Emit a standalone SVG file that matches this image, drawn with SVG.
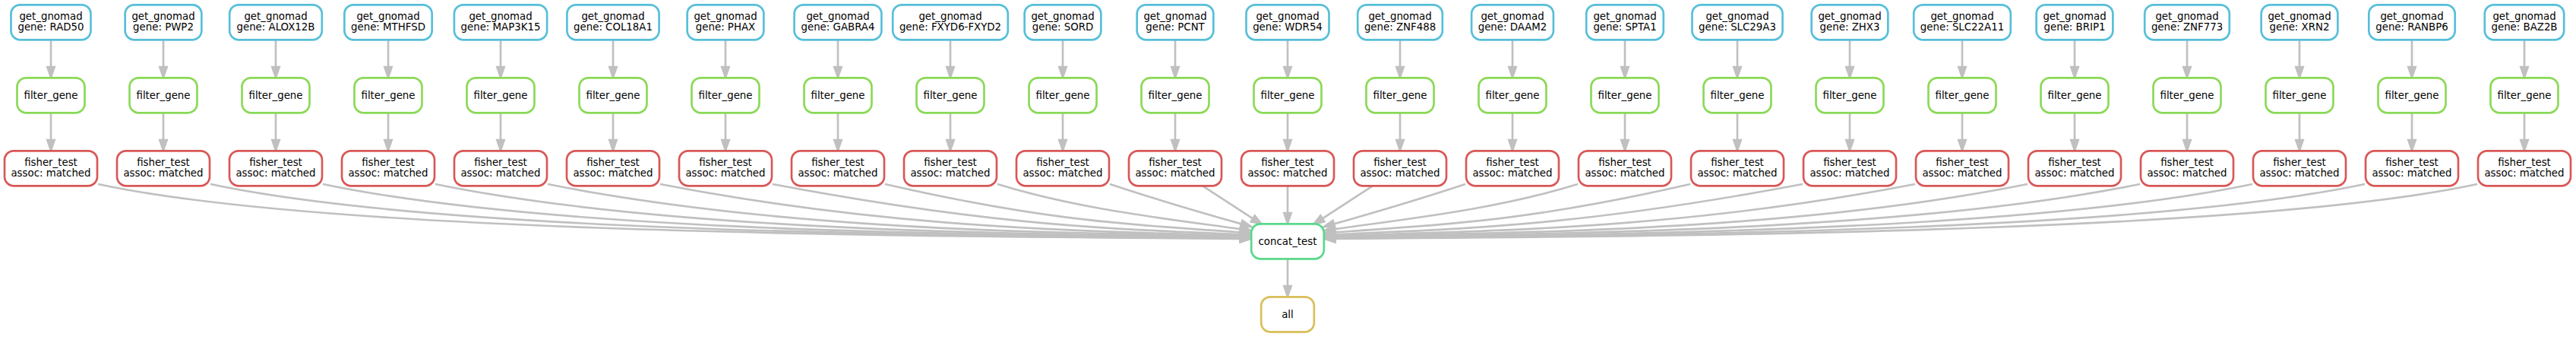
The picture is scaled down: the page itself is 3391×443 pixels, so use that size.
<svg xmlns="http://www.w3.org/2000/svg" width="3391" height="443" viewBox="0 0 3391 443">
<style>
.n rect{fill:#ffffff;stroke-width:2.67}
.g rect{stroke:#57bfd9}
.f rect{stroke:#8bd957}
.x rect{stroke:#d95757}
.c rect{stroke:#57d98b}
.l rect{stroke:#d9bf57}
text{font-family:"DejaVu Sans","Liberation Sans",sans-serif;font-size:13.33px;text-anchor:middle;fill:#000000}
#edges path{fill:none;stroke:#c0c0c0;stroke-width:2.67}
#edges polygon{fill:#c0c0c0;stroke:#c0c0c0;stroke-width:2.67}
</style>
<rect x="0" y="0" width="3391" height="443" fill="#ffffff"/>
<g id="edges">
<path d="M67 52.3V88.2"/><polygon points="67,101.5 62.33,88.2 71.67,88.2"/>
<path d="M67 148.3V184.2"/><polygon points="67,197.5 62.33,184.2 71.67,184.2"/>
<path d="M215 52.3V88.2"/><polygon points="215,101.5 210.33,88.2 219.67,88.2"/>
<path d="M215 148.3V184.2"/><polygon points="215,197.5 210.33,184.2 219.67,184.2"/>
<path d="M363 52.3V88.2"/><polygon points="363,101.5 358.33,88.2 367.67,88.2"/>
<path d="M363 148.3V184.2"/><polygon points="363,197.5 358.33,184.2 367.67,184.2"/>
<path d="M511 52.3V88.2"/><polygon points="511,101.5 506.33,88.2 515.67,88.2"/>
<path d="M511 148.3V184.2"/><polygon points="511,197.5 506.33,184.2 515.67,184.2"/>
<path d="M659 52.3V88.2"/><polygon points="659,101.5 654.33,88.2 663.67,88.2"/>
<path d="M659 148.3V184.2"/><polygon points="659,197.5 654.33,184.2 663.67,184.2"/>
<path d="M807 52.3V88.2"/><polygon points="807,101.5 802.33,88.2 811.67,88.2"/>
<path d="M807 148.3V184.2"/><polygon points="807,197.5 802.33,184.2 811.67,184.2"/>
<path d="M955 52.3V88.2"/><polygon points="955,101.5 950.33,88.2 959.67,88.2"/>
<path d="M955 148.3V184.2"/><polygon points="955,197.5 950.33,184.2 959.67,184.2"/>
<path d="M1103 52.3V88.2"/><polygon points="1103,101.5 1098.33,88.2 1107.67,88.2"/>
<path d="M1103 148.3V184.2"/><polygon points="1103,197.5 1098.33,184.2 1107.67,184.2"/>
<path d="M1251 52.3V88.2"/><polygon points="1251,101.5 1246.33,88.2 1255.67,88.2"/>
<path d="M1251 148.3V184.2"/><polygon points="1251,197.5 1246.33,184.2 1255.67,184.2"/>
<path d="M1399 52.3V88.2"/><polygon points="1399,101.5 1394.33,88.2 1403.67,88.2"/>
<path d="M1399 148.3V184.2"/><polygon points="1399,197.5 1394.33,184.2 1403.67,184.2"/>
<path d="M1547 52.3V88.2"/><polygon points="1547,101.5 1542.33,88.2 1551.67,88.2"/>
<path d="M1547 148.3V184.2"/><polygon points="1547,197.5 1542.33,184.2 1551.67,184.2"/>
<path d="M1695 52.3V88.2"/><polygon points="1695,101.5 1690.33,88.2 1699.67,88.2"/>
<path d="M1695 148.3V184.2"/><polygon points="1695,197.5 1690.33,184.2 1699.67,184.2"/>
<path d="M1843 52.3V88.2"/><polygon points="1843,101.5 1838.33,88.2 1847.67,88.2"/>
<path d="M1843 148.3V184.2"/><polygon points="1843,197.5 1838.33,184.2 1847.67,184.2"/>
<path d="M1991 52.3V88.2"/><polygon points="1991,101.5 1986.33,88.2 1995.67,88.2"/>
<path d="M1991 148.3V184.2"/><polygon points="1991,197.5 1986.33,184.2 1995.67,184.2"/>
<path d="M2139 52.3V88.2"/><polygon points="2139,101.5 2134.33,88.2 2143.67,88.2"/>
<path d="M2139 148.3V184.2"/><polygon points="2139,197.5 2134.33,184.2 2143.67,184.2"/>
<path d="M2287 52.3V88.2"/><polygon points="2287,101.5 2282.33,88.2 2291.67,88.2"/>
<path d="M2287 148.3V184.2"/><polygon points="2287,197.5 2282.33,184.2 2291.67,184.2"/>
<path d="M2435 52.3V88.2"/><polygon points="2435,101.5 2430.33,88.2 2439.67,88.2"/>
<path d="M2435 148.3V184.2"/><polygon points="2435,197.5 2430.33,184.2 2439.67,184.2"/>
<path d="M2583 52.3V88.2"/><polygon points="2583,101.5 2578.33,88.2 2587.67,88.2"/>
<path d="M2583 148.3V184.2"/><polygon points="2583,197.5 2578.33,184.2 2587.67,184.2"/>
<path d="M2731 52.3V88.2"/><polygon points="2731,101.5 2726.33,88.2 2735.67,88.2"/>
<path d="M2731 148.3V184.2"/><polygon points="2731,197.5 2726.33,184.2 2735.67,184.2"/>
<path d="M2879 52.3V88.2"/><polygon points="2879,101.5 2874.33,88.2 2883.67,88.2"/>
<path d="M2879 148.3V184.2"/><polygon points="2879,197.5 2874.33,184.2 2883.67,184.2"/>
<path d="M3027 52.3V88.2"/><polygon points="3027,101.5 3022.33,88.2 3031.67,88.2"/>
<path d="M3027 148.3V184.2"/><polygon points="3027,197.5 3022.33,184.2 3031.67,184.2"/>
<path d="M3175 52.3V88.2"/><polygon points="3175,101.5 3170.33,88.2 3179.67,88.2"/>
<path d="M3175 148.3V184.2"/><polygon points="3175,197.5 3170.33,184.2 3179.67,184.2"/>
<path d="M3323 52.3V88.2"/><polygon points="3323,101.5 3318.33,88.2 3327.67,88.2"/>
<path d="M3323 148.3V184.2"/><polygon points="3323,197.5 3318.33,184.2 3327.67,184.2"/>

<path d="M129 242C444 309.6 1256.8 310.1 1632.7 313.87"/><polygon points="1646,314 1632.7,318.5 1632.7,309.2"/>
<path d="M277 242C592 308.8 1293.8 309.27 1632.7 313.34"/><polygon points="1646,313.5 1632.6,318 1632.8,308.7"/>
<path d="M425 242C740 307.8 1330.8 308.27 1632.7 312.8"/><polygon points="1646,313 1632.6,317.5 1632.8,308.1"/>
<path d="M573 242C888 306.4 1367.8 306.93 1632.7 312.23"/><polygon points="1646,312.5 1632.6,316.9 1632.8,307.6"/>
<path d="M721 242C1036 305 1404.8 305.47 1632.7 311.17"/><polygon points="1646,311.5 1632.6,315.8 1632.8,306.5"/>
<path d="M869 242C1184 302.9 1441.8 303.35 1632.7 310.03"/><polygon points="1646,310.5 1632.5,314.7 1632.9,305.4"/>
<path d="M1017 242C1324.9 300.1 1478.8 300.6 1632.7 308.33"/><polygon points="1646,309 1632.5,313 1632.9,303.7"/>
<path d="M1165 242C1398.9 295.6 1515.8 296.1 1632.7 305.44"/><polygon points="1646,306.5 1632.3,310.1 1633.1,300.8"/>
<path d="M1313 242C1418.5 274.5 1527.3 286.4 1632.8 301.15"/><polygon points="1646,303 1632.2,305.8 1633.4,296.5"/>
<path d="M1461 242C1518.2 260.9 1577 278.4 1634.2 294.4"/><polygon points="1647,298 1632.9,298.9 1635.5,289.9"/>
<path d="M1583 244.3L1649.25 287.35"/><polygon points="1660.5,294.5 1646.75,291.29 1651.75,283.41"/>
<path d="M1695 244.3V280.2"/><polygon points="1695,293.5 1690.33,280.2 1699.67,280.2"/>
<path d="M1807 244.3L1740.75 287.35"/><polygon points="1729.5,294.5 1743.25,291.29 1738.25,283.41"/>
<path d="M1929 242C1871.8 260.9 1813 278.4 1755.8 294.4"/><polygon points="1743,298 1757.1,298.9 1754.5,289.9"/>
<path d="M2077 242C1971.5 274.5 1862.7 286.4 1757.2 301.15"/><polygon points="1744,303 1757.8,305.8 1756.6,296.5"/>
<path d="M2225 242C1991.1 295.6 1874.2 296.1 1757.3 305.44"/><polygon points="1744,306.5 1757.7,310.1 1756.9,300.8"/>
<path d="M2373 242C2065.1 300.1 1911.2 300.6 1757.3 308.33"/><polygon points="1744,309 1757.5,313 1757.1,303.7"/>
<path d="M2521 242C2206 302.9 1948.2 303.35 1757.3 310.03"/><polygon points="1744,310.5 1757.5,314.7 1757.1,305.4"/>
<path d="M2669 242C2354 305 1985.2 305.47 1757.3 311.17"/><polygon points="1744,311.5 1757.4,315.8 1757.2,306.5"/>
<path d="M2817 242C2502 306.4 2022.2 306.93 1757.3 312.23"/><polygon points="1744,312.5 1757.4,316.9 1757.2,307.6"/>
<path d="M2965 242C2650 307.8 2059.2 308.27 1757.3 312.8"/><polygon points="1744,313 1757.4,317.5 1757.2,308.1"/>
<path d="M3113 242C2798 308.8 2096.2 309.27 1757.3 313.34"/><polygon points="1744,313.5 1757.4,318 1757.2,308.7"/>
<path d="M3261 242C2946 309.6 2133.2 310.1 1757.3 313.87"/><polygon points="1744,314 1757.3,318.5 1757.3,309.2"/>
<path d="M1695 340.3V376.2"/><polygon points="1695,389.5 1690.33,376.2 1699.67,376.2"/>
</g>

<g id="get_gnomad_RAD50" class="n g"><rect x="14.5" y="6.3" width="105" height="46" rx="12"/><text x="67" y="25.8">get_gnomad</text><text x="67" y="40.3">gene: RAD50</text></g>
<g id="get_gnomad_PWP2" class="n g"><rect x="164.65" y="6.3" width="100.7" height="46" rx="12"/><text x="215" y="25.8">get_gnomad</text><text x="215" y="40.3">gene: PWP2</text></g>
<g id="get_gnomad_ALOX12B" class="n g"><rect x="302.2" y="6.3" width="121.6" height="46" rx="12"/><text x="363" y="25.8">get_gnomad</text><text x="363" y="40.3">gene: ALOX12B</text></g>
<g id="get_gnomad_MTHFSD" class="n g"><rect x="453.35" y="6.3" width="115.3" height="46" rx="12"/><text x="511" y="25.8">get_gnomad</text><text x="511" y="40.3">gene: MTHFSD</text></g>
<g id="get_gnomad_MAP3K15" class="n g"><rect x="597.9" y="6.3" width="122.2" height="46" rx="12"/><text x="659" y="25.8">get_gnomad</text><text x="659" y="40.3">gene: MAP3K15</text></g>
<g id="get_gnomad_COL18A1" class="n g"><rect x="746.4" y="6.3" width="121.2" height="46" rx="12"/><text x="807" y="25.8">get_gnomad</text><text x="807" y="40.3">gene: COL18A1</text></g>
<g id="get_gnomad_PHAX" class="n g"><rect x="904.65" y="6.3" width="100.7" height="46" rx="12"/><text x="955" y="25.8">get_gnomad</text><text x="955" y="40.3">gene: PHAX</text></g>
<g id="get_gnomad_GABRA4" class="n g"><rect x="1045.6" y="6.3" width="114.8" height="46" rx="12"/><text x="1103" y="25.8">get_gnomad</text><text x="1103" y="40.3">gene: GABRA4</text></g>
<g id="get_gnomad_FXYD6-FXYD2" class="n g"><rect x="1175.2" y="6.3" width="151.6" height="46" rx="12"/><text x="1251" y="25.8">get_gnomad</text><text x="1251" y="40.3">gene: FXYD6-FXYD2</text></g>
<g id="get_gnomad_SORD" class="n g"><rect x="1348.65" y="6.3" width="100.7" height="46" rx="12"/><text x="1399" y="25.8">get_gnomad</text><text x="1399" y="40.3">gene: SORD</text></g>
<g id="get_gnomad_PCNT" class="n g"><rect x="1496.65" y="6.3" width="100.7" height="46" rx="12"/><text x="1547" y="25.8">get_gnomad</text><text x="1547" y="40.3">gene: PCNT</text></g>
<g id="get_gnomad_WDR54" class="n g"><rect x="1640.5" y="6.3" width="109" height="46" rx="12"/><text x="1695" y="25.8">get_gnomad</text><text x="1695" y="40.3">gene: WDR54</text></g>
<g id="get_gnomad_ZNF488" class="n g"><rect x="1787.2" y="6.3" width="111.6" height="46" rx="12"/><text x="1843" y="25.8">get_gnomad</text><text x="1843" y="40.3">gene: ZNF488</text></g>
<g id="get_gnomad_DAAM2" class="n g"><rect x="1937.1" y="6.3" width="107.8" height="46" rx="12"/><text x="1991" y="25.8">get_gnomad</text><text x="1991" y="40.3">gene: DAAM2</text></g>
<g id="get_gnomad_SPTA1" class="n g"><rect x="2088.2" y="6.3" width="101.6" height="46" rx="12"/><text x="2139" y="25.8">get_gnomad</text><text x="2139" y="40.3">gene: SPTA1</text></g>
<g id="get_gnomad_SLC29A3" class="n g"><rect x="2227.45" y="6.3" width="119.1" height="46" rx="12"/><text x="2287" y="25.8">get_gnomad</text><text x="2287" y="40.3">gene: SLC29A3</text></g>
<g id="get_gnomad_ZHX3" class="n g"><rect x="2384.65" y="6.3" width="100.7" height="46" rx="12"/><text x="2435" y="25.8">get_gnomad</text><text x="2435" y="40.3">gene: ZHX3</text></g>
<g id="get_gnomad_SLC22A11" class="n g"><rect x="2519.2" y="6.3" width="127.6" height="46" rx="12"/><text x="2583" y="25.8">get_gnomad</text><text x="2583" y="40.3">gene: SLC22A11</text></g>
<g id="get_gnomad_BRIP1" class="n g"><rect x="2680.65" y="6.3" width="100.7" height="46" rx="12"/><text x="2731" y="25.8">get_gnomad</text><text x="2731" y="40.3">gene: BRIP1</text></g>
<g id="get_gnomad_ZNF773" class="n g"><rect x="2823.2" y="6.3" width="111.6" height="46" rx="12"/><text x="2879" y="25.8">get_gnomad</text><text x="2879" y="40.3">gene: ZNF773</text></g>
<g id="get_gnomad_XRN2" class="n g"><rect x="2976.65" y="6.3" width="100.7" height="46" rx="12"/><text x="3027" y="25.8">get_gnomad</text><text x="3027" y="40.3">gene: XRN2</text></g>
<g id="get_gnomad_RANBP6" class="n g"><rect x="3118.3" y="6.3" width="113.4" height="46" rx="12"/><text x="3175" y="25.8">get_gnomad</text><text x="3175" y="40.3">gene: RANBP6</text></g>
<g id="get_gnomad_BAZ2B" class="n g"><rect x="3270.8" y="6.3" width="104.4" height="46" rx="12"/><text x="3323" y="25.8">get_gnomad</text><text x="3323" y="40.3">gene: BAZ2B</text></g>

<g id="filter_gene_0" class="n f"><rect x="22.5" y="102.3" width="89" height="46" rx="12"/><text x="67" y="129.6">filter_gene</text></g>
<g id="filter_gene_1" class="n f"><rect x="170.5" y="102.3" width="89" height="46" rx="12"/><text x="215" y="129.6">filter_gene</text></g>
<g id="filter_gene_2" class="n f"><rect x="318.5" y="102.3" width="89" height="46" rx="12"/><text x="363" y="129.6">filter_gene</text></g>
<g id="filter_gene_3" class="n f"><rect x="466.5" y="102.3" width="89" height="46" rx="12"/><text x="511" y="129.6">filter_gene</text></g>
<g id="filter_gene_4" class="n f"><rect x="614.5" y="102.3" width="89" height="46" rx="12"/><text x="659" y="129.6">filter_gene</text></g>
<g id="filter_gene_5" class="n f"><rect x="762.5" y="102.3" width="89" height="46" rx="12"/><text x="807" y="129.6">filter_gene</text></g>
<g id="filter_gene_6" class="n f"><rect x="910.5" y="102.3" width="89" height="46" rx="12"/><text x="955" y="129.6">filter_gene</text></g>
<g id="filter_gene_7" class="n f"><rect x="1058.5" y="102.3" width="89" height="46" rx="12"/><text x="1103" y="129.6">filter_gene</text></g>
<g id="filter_gene_8" class="n f"><rect x="1206.5" y="102.3" width="89" height="46" rx="12"/><text x="1251" y="129.6">filter_gene</text></g>
<g id="filter_gene_9" class="n f"><rect x="1354.5" y="102.3" width="89" height="46" rx="12"/><text x="1399" y="129.6">filter_gene</text></g>
<g id="filter_gene_10" class="n f"><rect x="1502.5" y="102.3" width="89" height="46" rx="12"/><text x="1547" y="129.6">filter_gene</text></g>
<g id="filter_gene_11" class="n f"><rect x="1650.5" y="102.3" width="89" height="46" rx="12"/><text x="1695" y="129.6">filter_gene</text></g>
<g id="filter_gene_12" class="n f"><rect x="1798.5" y="102.3" width="89" height="46" rx="12"/><text x="1843" y="129.6">filter_gene</text></g>
<g id="filter_gene_13" class="n f"><rect x="1946.5" y="102.3" width="89" height="46" rx="12"/><text x="1991" y="129.6">filter_gene</text></g>
<g id="filter_gene_14" class="n f"><rect x="2094.5" y="102.3" width="89" height="46" rx="12"/><text x="2139" y="129.6">filter_gene</text></g>
<g id="filter_gene_15" class="n f"><rect x="2242.5" y="102.3" width="89" height="46" rx="12"/><text x="2287" y="129.6">filter_gene</text></g>
<g id="filter_gene_16" class="n f"><rect x="2390.5" y="102.3" width="89" height="46" rx="12"/><text x="2435" y="129.6">filter_gene</text></g>
<g id="filter_gene_17" class="n f"><rect x="2538.5" y="102.3" width="89" height="46" rx="12"/><text x="2583" y="129.6">filter_gene</text></g>
<g id="filter_gene_18" class="n f"><rect x="2686.5" y="102.3" width="89" height="46" rx="12"/><text x="2731" y="129.6">filter_gene</text></g>
<g id="filter_gene_19" class="n f"><rect x="2834.5" y="102.3" width="89" height="46" rx="12"/><text x="2879" y="129.6">filter_gene</text></g>
<g id="filter_gene_20" class="n f"><rect x="2982.5" y="102.3" width="89" height="46" rx="12"/><text x="3027" y="129.6">filter_gene</text></g>
<g id="filter_gene_21" class="n f"><rect x="3130.5" y="102.3" width="89" height="46" rx="12"/><text x="3175" y="129.6">filter_gene</text></g>
<g id="filter_gene_22" class="n f"><rect x="3278.5" y="102.3" width="89" height="46" rx="12"/><text x="3323" y="129.6">filter_gene</text></g>

<g id="fisher_test_0" class="n x"><rect x="6" y="198.3" width="122" height="46" rx="12"/><text x="67" y="217.8">fisher_test</text><text x="67" y="232.3">assoc: matched</text></g>
<g id="fisher_test_1" class="n x"><rect x="154" y="198.3" width="122" height="46" rx="12"/><text x="215" y="217.8">fisher_test</text><text x="215" y="232.3">assoc: matched</text></g>
<g id="fisher_test_2" class="n x"><rect x="302" y="198.3" width="122" height="46" rx="12"/><text x="363" y="217.8">fisher_test</text><text x="363" y="232.3">assoc: matched</text></g>
<g id="fisher_test_3" class="n x"><rect x="450" y="198.3" width="122" height="46" rx="12"/><text x="511" y="217.8">fisher_test</text><text x="511" y="232.3">assoc: matched</text></g>
<g id="fisher_test_4" class="n x"><rect x="598" y="198.3" width="122" height="46" rx="12"/><text x="659" y="217.8">fisher_test</text><text x="659" y="232.3">assoc: matched</text></g>
<g id="fisher_test_5" class="n x"><rect x="746" y="198.3" width="122" height="46" rx="12"/><text x="807" y="217.8">fisher_test</text><text x="807" y="232.3">assoc: matched</text></g>
<g id="fisher_test_6" class="n x"><rect x="894" y="198.3" width="122" height="46" rx="12"/><text x="955" y="217.8">fisher_test</text><text x="955" y="232.3">assoc: matched</text></g>
<g id="fisher_test_7" class="n x"><rect x="1042" y="198.3" width="122" height="46" rx="12"/><text x="1103" y="217.8">fisher_test</text><text x="1103" y="232.3">assoc: matched</text></g>
<g id="fisher_test_8" class="n x"><rect x="1190" y="198.3" width="122" height="46" rx="12"/><text x="1251" y="217.8">fisher_test</text><text x="1251" y="232.3">assoc: matched</text></g>
<g id="fisher_test_9" class="n x"><rect x="1338" y="198.3" width="122" height="46" rx="12"/><text x="1399" y="217.8">fisher_test</text><text x="1399" y="232.3">assoc: matched</text></g>
<g id="fisher_test_10" class="n x"><rect x="1486" y="198.3" width="122" height="46" rx="12"/><text x="1547" y="217.8">fisher_test</text><text x="1547" y="232.3">assoc: matched</text></g>
<g id="fisher_test_11" class="n x"><rect x="1634" y="198.3" width="122" height="46" rx="12"/><text x="1695" y="217.8">fisher_test</text><text x="1695" y="232.3">assoc: matched</text></g>
<g id="fisher_test_12" class="n x"><rect x="1782" y="198.3" width="122" height="46" rx="12"/><text x="1843" y="217.8">fisher_test</text><text x="1843" y="232.3">assoc: matched</text></g>
<g id="fisher_test_13" class="n x"><rect x="1930" y="198.3" width="122" height="46" rx="12"/><text x="1991" y="217.8">fisher_test</text><text x="1991" y="232.3">assoc: matched</text></g>
<g id="fisher_test_14" class="n x"><rect x="2078" y="198.3" width="122" height="46" rx="12"/><text x="2139" y="217.8">fisher_test</text><text x="2139" y="232.3">assoc: matched</text></g>
<g id="fisher_test_15" class="n x"><rect x="2226" y="198.3" width="122" height="46" rx="12"/><text x="2287" y="217.8">fisher_test</text><text x="2287" y="232.3">assoc: matched</text></g>
<g id="fisher_test_16" class="n x"><rect x="2374" y="198.3" width="122" height="46" rx="12"/><text x="2435" y="217.8">fisher_test</text><text x="2435" y="232.3">assoc: matched</text></g>
<g id="fisher_test_17" class="n x"><rect x="2522" y="198.3" width="122" height="46" rx="12"/><text x="2583" y="217.8">fisher_test</text><text x="2583" y="232.3">assoc: matched</text></g>
<g id="fisher_test_18" class="n x"><rect x="2670" y="198.3" width="122" height="46" rx="12"/><text x="2731" y="217.8">fisher_test</text><text x="2731" y="232.3">assoc: matched</text></g>
<g id="fisher_test_19" class="n x"><rect x="2818" y="198.3" width="122" height="46" rx="12"/><text x="2879" y="217.8">fisher_test</text><text x="2879" y="232.3">assoc: matched</text></g>
<g id="fisher_test_20" class="n x"><rect x="2966" y="198.3" width="122" height="46" rx="12"/><text x="3027" y="217.8">fisher_test</text><text x="3027" y="232.3">assoc: matched</text></g>
<g id="fisher_test_21" class="n x"><rect x="3114" y="198.3" width="122" height="46" rx="12"/><text x="3175" y="217.8">fisher_test</text><text x="3175" y="232.3">assoc: matched</text></g>
<g id="fisher_test_22" class="n x"><rect x="3262" y="198.3" width="122" height="46" rx="12"/><text x="3323" y="217.8">fisher_test</text><text x="3323" y="232.3">assoc: matched</text></g>

<g id="concat_test" class="n c"><rect x="1647.2" y="294.3" width="95.6" height="46" rx="12"/><text x="1695" y="321.6">concat_test</text></g>
<g id="all" class="n l"><rect x="1660.15" y="390.3" width="69.7" height="46" rx="12"/><text x="1695" y="417.6">all</text></g>
</svg>
